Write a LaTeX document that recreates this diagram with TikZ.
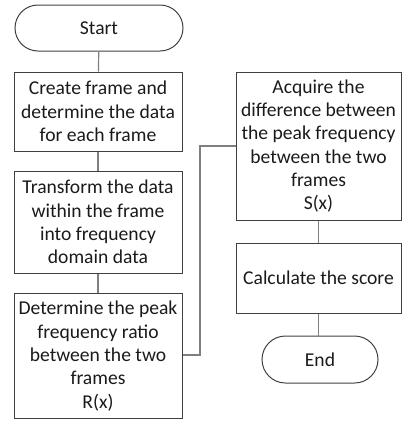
\documentclass[tikz,border=0pt]{standalone}
\usepackage{fontspec}
\setmainfont{Carlito}
\usetikzlibrary{shapes.misc}
\definecolor{boxline}{HTML}{404040}
\definecolor{conline}{HTML}{7F7F7F}
\definecolor{txt}{HTML}{1A1A1A}
\tikzset{
  x=1pt,y=-1pt,
  proc/.style={draw=boxline, line width=1pt, rectangle, align=center, inner sep=0pt, text=txt,
    font=\fontsize{19.6}{23.3}\selectfont},
  term/.style={draw=boxline, line width=1pt, rounded rectangle, align=center, inner sep=0pt, text=txt,
    font=\fontsize{19.6}{23.3}\selectfont},
  con/.style={draw=conline, line width=1.2pt}
}
\begin{document}
\begin{tikzpicture}
\useasboundingbox (0,0) rectangle (402,421);
\node[term, minimum width=168pt, minimum height=46pt] (start) at (99,28) {Start};
\node[proc, minimum width=168pt, minimum height=79pt] (b1) at (98,111.5) {Create frame and\\determine the data\\for each frame};
\node[proc, minimum width=168pt, minimum height=102pt] (b2) at (98,222) {Transform the data\\within the frame\\into frequency\\domain data};
\node[proc, minimum width=168pt, minimum height=125pt] (b3) at (98,356) {Determine the peak\\frequency ratio\\between the two\\frames\\R(x)};
\node[proc, minimum width=165pt, minimum height=148pt] (b4) at (318.5,146) {Acquire the\\difference between\\the peak frequency\\between the two\\frames\\S(x)};
\node[proc, minimum width=165pt, minimum height=70pt] (b5) at (318.5,278) {Calculate the score};
\node[term, minimum width=116pt, minimum height=47pt] (end) at (320,359.5) {End};
\draw[con] (start) -- (b1);
\draw[con] (b1) -- (b2);
\draw[con] (b2) -- (b3);
\coordinate (m) at (200,355);
\draw[con] (b3.east |- m) -- (m) |- (b4.west);
\draw[con] (b4) -- (b5);
\draw[con] (b5.south) -- (b5.south |- end.north);
\end{tikzpicture}
\end{document}
